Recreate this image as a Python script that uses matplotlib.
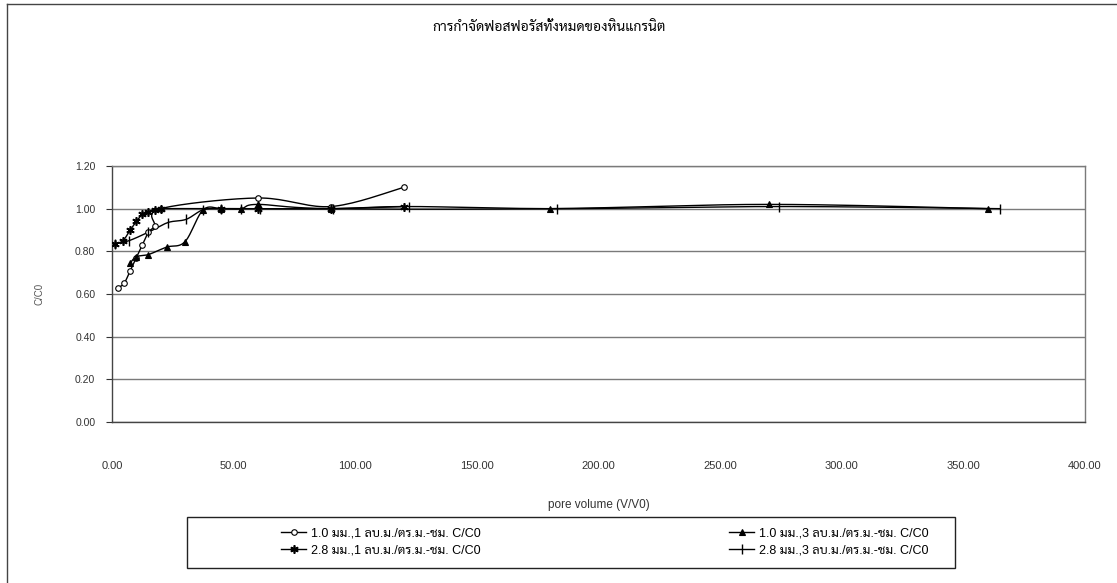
import matplotlib
matplotlib.use('Agg')

import matplotlib.pyplot as plt
import numpy as np
from matplotlib.lines import Line2D
from matplotlib.patches import Rectangle

plt.rcParams['font.family'] = ['Liberation Sans', 'Sarabun', 'Noto Sans Thai', 'Bai Jamjuree']

# pore volume (V/V0) and C/C0 for each column run
pv_10_1 = [2.5, 5.0, 7.5, 10.0, 12.5, 15.0, 17.5, 20.0, 60.0, 90.0, 120.0]
cc_10_1 = [0.63, 0.65, 0.71, 0.77, 0.83, 0.89, 0.92, 1.00, 1.05, 1.01, 1.10]

pv_28_1 = [1.2, 4.5, 7.5, 10.0, 12.5, 15.0, 17.5, 20.0, 45.0, 60.0, 90.0, 120.0]
cc_28_1 = [0.835, 0.85, 0.90, 0.94, 0.975, 0.985, 0.995, 1.00, 1.00, 1.00, 1.00, 1.01]

pv_10_3 = [7.5, 10.0, 15.0, 22.5, 30.0, 37.5, 45.0, 53.0, 60.0, 90.0, 180.0, 270.0, 360.0]
cc_10_3 = [0.745, 0.775, 0.785, 0.82, 0.845, 0.995, 1.00, 1.00, 1.02, 1.00, 1.00, 1.02, 1.00]

pv_28_3 = [1.2, 7.0, 15.0, 23.0, 30.5, 37.5, 45.0, 53.0, 61.0, 91.0, 122.0, 183.0, 274.0, 365.0]
cc_28_3 = [0.835, 0.85, 0.89, 0.935, 0.95, 0.995, 1.00, 1.00, 1.00, 1.00, 1.01, 1.00, 1.01, 1.00]

labels = ["1.0 มม.,1 ลบ.ม./ตร.ม.-ชม. C/C0",
          "2.8 มม.,1 ลบ.ม./ตร.ม.-ชม. C/C0",
          "1.0 มม.,3 ลบ.ม./ตร.ม.-ชม. C/C0",
          "2.8 มม.,3 ลบ.ม./ตร.ม.-ชม. C/C0"]


def smooth(x, y, n=20):
    # catmull-rom curve through the points, like a spreadsheet "smoothed line"
    x = np.asarray(x, float)
    y = np.asarray(y, float)
    px = np.concatenate([[x[0]], x, [x[-1]]])
    py = np.concatenate([[y[0]], y, [y[-1]]])
    t = np.linspace(0, 1, n)
    ox, oy = [], []
    for i in range(1, len(px) - 2):
        for p, out in ((px, ox), (py, oy)):
            p0, p1, p2, p3 = p[i - 1], p[i], p[i + 1], p[i + 2]
            c1 = p1 + (p2 - p0) / 6
            c2 = p2 - (p3 - p1) / 6
            out.extend((1 - t) ** 3 * p1 + 3 * (1 - t) ** 2 * t * c1
                       + 3 * (1 - t) * t ** 2 * c2 + t ** 3 * p2)
    return ox, oy


W, H = 1117, 583
fig = plt.figure(figsize=(W / 100, H / 100), dpi=100)
ax = fig.add_axes([112 / W, 1 - 422 / H, (1085 - 112) / W, (422 - 166) / H])

styles = [
    dict(marker='o', mfc='white', mec='black', ms=4, mew=0.8),
    dict(marker=(6, 2, 0), mfc='black', mec='black', ms=6, mew=1.2),
    dict(marker='^', mfc='black', mec='black', ms=5, mew=0.8),
    dict(marker='|', mfc='black', mec='black', ms=7, mew=1.0),
]
series = [(pv_10_1, cc_10_1), (pv_28_1, cc_28_1), (pv_10_3, cc_10_3), (pv_28_3, cc_28_3)]

handles = []
for (x, y), st, lab in zip(series, styles, labels):
    sx, sy = smooth(x, y)
    ax.plot(sx, sy, color='black', lw=1.0, zorder=3)
    ax.plot(x, y, ls='none', zorder=4, **st)
    handles.append(Line2D([], [], color='black', lw=1.0, label=lab, **st))

ax.set_xlim(0, 400)
ax.set_ylim(0, 1.2)
ax.set_xticks(np.arange(0, 401, 50))
ax.set_yticks(np.arange(0, 1.21, 0.2))
ax.set_xticklabels(["%.2f" % v for v in np.arange(0, 401, 50)])
ax.set_yticklabels(["%.2f" % v for v in np.arange(0, 1.21, 0.2)])
ax.tick_params(axis='x', length=0, pad=28, labelsize=8, colors='#333333')
ax.tick_params(axis='y', length=4, width=0.8, pad=8, labelsize=7.5, colors='#333333')
ax.yaxis.grid(True, color='#7a7a7a', lw=1.0)
ax.set_axisbelow(True)
for side in ax.spines.values():
    side.set_color('#7a7a7a')
    side.set_linewidth(1.0)
ax.spines['left'].set_color('#444444')
ax.spines['bottom'].set_color('#444444')

ax.set_ylabel("C/C0", fontsize=7, color='#555555', labelpad=22)
ax.set_xlabel("pore volume (V/V0)", fontsize=8.5, color='#333333', labelpad=20)

fig.text(549 / W, 1 - 27 / H, "การกำจัดฟอสฟอรัสทั้งหมดของหินแกรนิต", ha='center', va='center', fontsize=10)

# legend box, entries sit inside it without their own frame
fig.add_artist(Rectangle((187 / W, 1 - 568 / H), (955 - 187) / W, (568 - 517) / H,
                         transform=fig.transFigure, fill=False, ec='#222222', lw=1.0))
fig.legend(handles=handles, ncol=2, loc='center',
           bbox_to_anchor=(275 / W, 1 - 562 / H, (935 - 275) / W, 40 / H),
           mode='expand', fontsize=9, frameon=False,
           handlelength=2.0, handletextpad=0.4, borderpad=0.0, labelspacing=0.35)

# frame around the chart area
fig.add_artist(Line2D([7 / W, 7 / W], [0, 1 - 4 / H], color='#444444', lw=1.0))
fig.add_artist(Line2D([7 / W, 1], [1 - 4 / H, 1 - 4 / H], color='#444444', lw=1.0))

plt.savefig("out.png", dpi=100)
